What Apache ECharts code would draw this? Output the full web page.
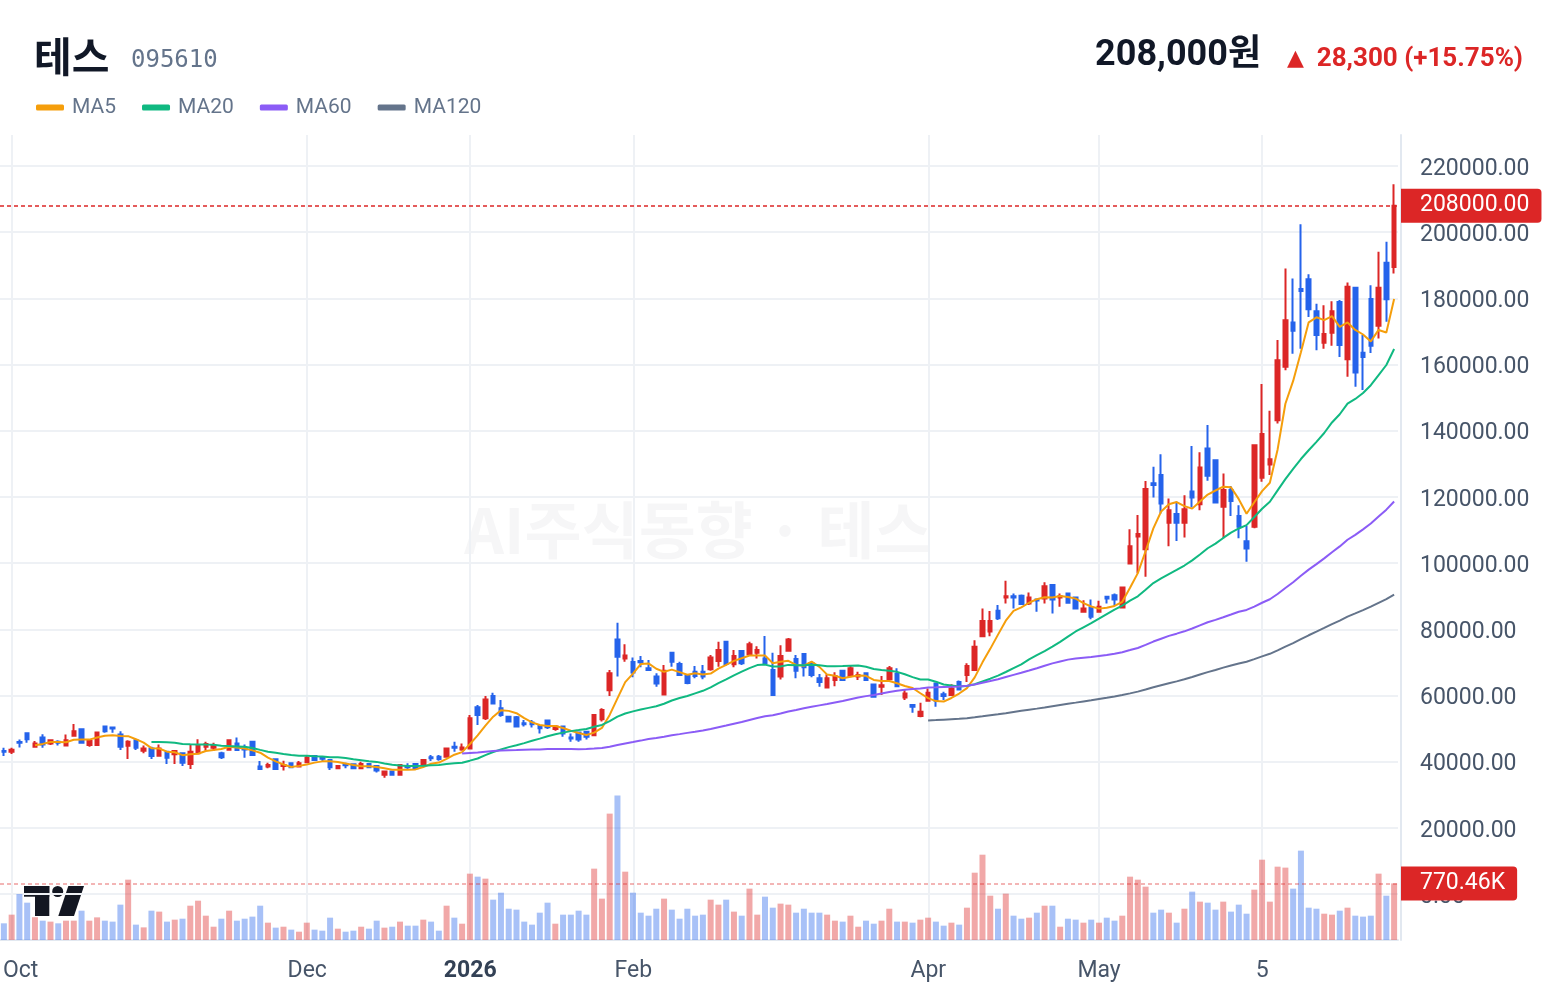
<!DOCTYPE html>
<html>
<head>
<meta charset="utf-8">
<title>테스 095610</title>
<script src="https://cdn.jsdelivr.net/npm/echarts@6/dist/echarts.min.js"></script>
<style>
  html, body { margin: 0; padding: 0; background: #fff; }
  #chart { width: 1560px; height: 996px; }
</style>
</head>
<body>
<div id="chart"></div>
<script>
// daily candles, oldest first (KRW)
const opens = [
  43200, 43000, 45900, 48600, 44500, 47300, 45500, 46000, 44900, 47800,
  49800, 45000, 45000, 50600, 50300, 48200, 44800, 46500, 43300, 44000,
  41800, 43000, 42200, 42500, 39300, 42500, 44500, 44200, 42500, 43600,
  45500, 44000, 46000, 38500, 38500, 40700, 38700, 39500, 38500, 39800,
  41700, 41200, 40500, 38000, 39200, 39200, 38000, 39300, 38700, 36000,
  37000, 36000, 38700, 39300, 39000, 41300, 41500, 41500, 44500, 43700,
  44000, 56400, 53100, 59800, 56100, 53600, 53400, 51600, 51800, 50800,
  52400, 49900, 50600, 47300, 48800, 49000, 48000, 52800, 61600, 76900,
  71200, 70100, 70400, 68200, 65700, 60300, 72900, 69500, 66000, 67200,
  67200, 67900, 70400, 76200, 69400, 73400, 72500, 72900, 71200, 67700,
  65700, 73500, 71000, 72500, 69700, 65200, 62400, 64700, 67500, 65900,
  65700, 66700, 63300, 62600, 64900, 66500, 59400, 57100, 53800, 58400,
  63600, 60400, 60100, 64100, 66200, 67700, 77900, 79300, 85600, 89600,
  90000, 90100, 87800, 89000, 89300, 93400, 89600, 90800, 89600, 85300,
  86600, 85300, 89800, 90300, 86600, 99900, 108000, 104200, 124100, 126600,
  112200, 114800, 112200, 121600, 117800, 134600, 131100, 117000, 122100, 114200,
  106600, 111000, 125800, 129800, 143200, 159300, 172700, 182800, 185800, 176100,
  166600, 169600, 178900, 161600, 183200, 163600, 179800, 171700, 190800, 189500
];
const closes = [
  43000, 43600, 45700, 46800, 45500, 45200, 46500, 45700, 46500, 49200,
  45700, 46200, 48800, 49200, 50000, 44500, 46000, 44200, 44000, 41700,
  44000, 41200, 43200, 39700, 43000, 44800, 45300, 44700, 41300, 46500,
  43500, 43700, 42000, 37800, 39000, 37800, 39000, 38300, 39500, 41200,
  40500, 40900, 38300, 38700, 38900, 38000, 39300, 38300, 37300, 37000,
  36000, 39000, 38300, 38000, 40500, 41000, 40800, 44000, 44200, 44300,
  53100, 54100, 58800, 57600, 54100, 52100, 50600, 51300, 51300, 50100,
  50400, 50600, 48500, 47000, 46700, 47500, 54100, 55600, 66700, 71700,
  72100, 66900, 70000, 67700, 63600, 67500, 70200, 66200, 63800, 65900,
  65700, 71500, 73700, 69500, 71900, 69700, 75500, 73700, 69700, 60100,
  71900, 76900, 67500, 68500, 66200, 64100, 65200, 65900, 64700, 68200,
  66200, 64700, 59600, 63100, 68200, 62800, 60600, 56600, 55100, 60800,
  58400, 59800, 62100, 61800, 68900, 74700, 82500, 82500, 83300, 90000,
  89600, 87600, 89600, 88700, 93000, 89000, 90000, 88000, 86300, 86300,
  83800, 86800, 89300, 89000, 92600, 105100, 108800, 122400, 123600, 118000,
  116000, 112200, 116300, 119800, 128900, 126400, 118300, 122100, 118800, 111000,
  104400, 135600, 139000, 131400, 161300, 173400, 170200, 182200, 176700, 168900,
  169200, 176100, 165900, 183500, 157600, 162300, 165700, 183200, 179700, 208000
];
const lows = [
  41700, 42300, 44300, 45700, 44200, 44200, 45000, 44900, 44800, 47800,
  45700, 44500, 44900, 48700, 48700, 43500, 40800, 43500, 42500, 40800,
  41800, 39300, 39300, 38700, 37800, 42500, 43300, 43200, 40800, 43600,
  43200, 41200, 41700, 37700, 38000, 37500, 37300, 38300, 38300, 39500,
  40200, 40200, 37500, 37700, 38000, 38000, 38000, 38300, 36700, 35100,
  36000, 36000, 37500, 37700, 38700, 40200, 40300, 41500, 43000, 43300,
  44000, 51100, 52600, 57400, 53600, 51800, 50300, 50600, 50300, 48500,
  49900, 49300, 47500, 46000, 46000, 46700, 47700, 52100, 59800, 65700,
  70200, 65500, 68500, 67500, 62600, 60100, 68700, 65900, 63400, 65200,
  64900, 67500, 68700, 68900, 68500, 69200, 72200, 71200, 69700, 60100,
  64800, 73500, 65200, 65700, 65500, 62600, 62400, 62800, 64500, 65500,
  64700, 64500, 59600, 60100, 64500, 62800, 58600, 54800, 53400, 58400,
  56600, 58600, 60100, 61800, 64100, 67700, 77900, 77900, 82800, 87800,
  86300, 87600, 87300, 85300, 87800, 84800, 86800, 87800, 86300, 85300,
  83000, 85000, 87800, 87000, 86600, 99700, 96900, 95900, 119800, 115000,
  105100, 106700, 107700, 116800, 116000, 124900, 118000, 107500, 114200, 107500,
  100400, 110500, 124600, 126600, 142200, 158300, 163300, 164800, 174400, 164300,
  164800, 165700, 162300, 156300, 153300, 152300, 163500, 167900, 172900, 187500
];
const highs = [
  44200, 44200, 46700, 48700, 46200, 48300, 46500, 46500, 48200, 51400,
  50000, 46800, 49000, 50600, 50300, 49200, 46500, 46500, 44900, 44500,
  45200, 43200, 43200, 42500, 45200, 46800, 46000, 45700, 43000, 46800,
  47300, 45200, 46200, 40200, 39700, 41000, 40300, 39700, 40200, 42000,
  42000, 41700, 40800, 39000, 39700, 39200, 40000, 39300, 38700, 37300,
  37000, 39000, 39500, 39300, 40800, 42000, 42000, 44300, 46000, 45500,
  54100, 57100, 59800, 60800, 58600, 53800, 53800, 52600, 52600, 50800,
  52600, 51100, 50600, 48500, 49000, 49300, 54100, 56100, 67700, 82000,
  75500, 71500, 71900, 70700, 66700, 69200, 73200, 70200, 66400, 68900,
  69200, 72200, 76200, 76400, 73700, 73400, 76200, 74900, 78000, 72900,
  75200, 77400, 72200, 72500, 70200, 66500, 66400, 67000, 67500, 68900,
  67200, 66900, 63600, 65900, 68900, 68200, 61800, 57400, 57800, 62100,
  63600, 61100, 63400, 64500, 69700, 76700, 86300, 85500, 87300, 94700,
  90800, 90500, 91100, 89000, 94200, 93400, 90800, 91000, 89800, 88800,
  89000, 88600, 89800, 90800, 92600, 110200, 114500, 124800, 129100, 132900,
  119500, 118500, 120500, 135400, 133500, 141700, 131100, 127100, 123300, 117500,
  111200, 135600, 154100, 146000, 167400, 189000, 186000, 202400, 187300, 178400,
  177900, 179100, 179500, 184800, 183200, 168900, 184000, 194100, 197100, 214500
];
// volume in thousands of shares
const volumes = [
  227, 345, 626, 508, 310, 263, 250, 227, 263, 263,
  399, 263, 308, 263, 250, 481, 821, 209, 172, 399,
  386, 250, 277, 290, 467, 535, 331, 181, 290, 399,
  263, 290, 318, 467, 236, 168, 181, 141, 113, 236,
  141, 127, 304, 154, 113, 127, 181, 154, 263, 168,
  181, 250, 195, 195, 277, 250, 127, 467, 304, 222,
  903, 862, 835, 549, 644, 426, 413, 250, 209, 372,
  508, 222, 345, 345, 399, 345, 971, 563, 1720, 1965,
  930, 644, 372, 331, 426, 563, 413, 290, 426, 331,
  345, 549, 481, 549, 386, 331, 699, 345, 590, 440,
  495, 481, 372, 426, 372, 372, 345, 263, 250, 331,
  181, 263, 222, 263, 426, 250, 250, 236, 277, 304,
  250, 195, 236, 209, 440, 916, 1161, 603, 426, 631,
  331, 290, 304, 372, 467, 467, 181, 290, 277, 236,
  277, 236, 304, 263, 331, 862, 821, 726, 372, 413,
  372, 236, 426, 658, 522, 508, 413, 522, 386, 481,
  358, 685, 1093, 522, 998, 985, 699, 1216, 440, 426,
  358, 345, 399, 440, 331, 318, 331, 903, 603, 770.46
];

// x-axis month marks: candle index and text
const tickIdx = [1, 39, 60, 81, 119, 141, 162];
const tickText = ['Oct', 'Dec', '2026', 'Feb', 'Apr', 'May', '5'];

const maPeriods = [5, 20, 60, 120];

const stockName = '테스';
const stockCode = '095610';
const lastPrice = 208000;
const priceChange = 28300;
const changePct = 15.75;
const lastVolume = 770.46;

const UP = '#dc2626';
const DOWN = '#2563eb';
const maColors = ['#f59e0b', '#10b981', '#8b5cf6', '#64748b'];
const GRID_LINE = '#eef1f5';
const AXIS_TEXT = '#475569';
const FONT = 'Roboto, "Noto Sans CJK KR", sans-serif';

const days = opens.map((_, i) => String(i));
const candles = opens.map((o, i) => [o, closes[i], lows[i], highs[i]]);

function movingAverage(n) {
  return closes.map((_, i) => {
    if (i < n - 1) return '-';
    let s = 0;
    for (let k = i - n + 1; k <= i; k++) s += closes[k];
    return Math.round(s / n);
  });
}

const volumeBars = volumes.map((v, i) => ({
  value: v,
  itemStyle: { color: closes[i] >= opens[i] ? 'rgba(220,38,38,0.4)' : 'rgba(37,99,235,0.4)' }
}));

const tagLabel = (text, bg) => ({
  show: true,
  position: 'end',
  distance: 3,
  formatter: text,
  color: '#fff',
  backgroundColor: bg,
  fontFamily: FONT,
  fontSize: 23,
  lineHeight: 25,
  padding: [7, 12, 2, 19],
  borderRadius: [0, 4, 4, 0]
});

const chart = echarts.init(document.getElementById('chart'), null, { renderer: 'canvas' });

const option = {
  animation: false,
  backgroundColor: '#fff',
  textStyle: { fontFamily: FONT },
  legend: {
    data: maPeriods.map(n => 'MA' + n),
    left: 36,
    top: 97,
    padding: 0,
    icon: 'roundRect',
    itemWidth: 28,
    itemHeight: 6,
    itemGap: 26,
    selectedMode: false,
    formatter: name => '{t|' + name + '}',
    textStyle: {
      color: '#64748b',
      fontSize: 21,
      fontFamily: FONT,
      rich: { t: { color: '#64748b', fontSize: 21, fontFamily: FONT, padding: [0, 0, 0, 3] } }
    }
  },
  grid: [
    { left: -2, right: 162, top: 166, height: 728 },
    { left: -2, right: 162, top: 135, bottom: 56 },
    { left: 1.89, right: 165.89, top: 135, bottom: 56 }
  ],
  xAxis: [
    { type: 'category', gridIndex: 0, data: days, boundaryGap: true, show: false },
    {
      type: 'category', gridIndex: 1, data: days, boundaryGap: true,
      axisLine: { show: true, lineStyle: { color: '#e2e8f0', width: 2 } },
      axisTick: { show: false }, axisLabel: { show: false }, splitLine: { show: false }
    },
    {
      type: 'category', gridIndex: 2, data: days, boundaryGap: false,
      axisLine: { show: false }, axisTick: { show: false },
      splitLine: {
        show: true,
        interval: i => tickIdx.includes(i),
        lineStyle: { color: GRID_LINE, width: 2 }
      },
      axisLabel: {
        interval: i => tickIdx.includes(i),
        margin: 20,
        color: AXIS_TEXT,
        fontSize: 23,
        fontFamily: FONT,
        formatter: (v, i) => {
          const t = tickText[tickIdx.indexOf(i)];
          if (i === tickIdx[0]) return '{first|' + t + '}';
          if (/^\d{4}$/.test(t)) return '{yr|' + t + '}';
          return t;
        },
        rich: {
          first: { color: AXIS_TEXT, fontSize: 23, fontFamily: FONT, padding: [0, 0, 0, 17] },
          yr: { color: '#334155', fontSize: 23, fontFamily: FONT, fontWeight: 'bold' }
        }
      }
    }
  ],
  yAxis: [
    {
      type: 'value', gridIndex: 0, min: 0, max: 220000, interval: 20000,
      position: 'right', offset: 3,
      axisLine: { show: false }, axisTick: { show: false },
      splitLine: { show: true, lineStyle: { color: GRID_LINE, width: 2 } },
      axisLabel: {
        margin: 19, color: AXIS_TEXT, fontSize: 23, fontFamily: FONT,
        formatter: v => '{p|' + v.toFixed(2) + '}',
        rich: { p: { color: AXIS_TEXT, fontSize: 23, fontFamily: FONT, padding: [6, 0, 0, 0] } }
      }
    },
    {
      type: 'value', gridIndex: 1, min: 0, max: 10956,
      position: 'right', offset: 3,
      axisLine: { show: true, lineStyle: { color: '#e2e8f0', width: 2 } },
      axisTick: { show: false }, axisLabel: { show: false }, splitLine: { show: false }
    },
    { type: 'value', gridIndex: 2, show: false }
  ],
  series: [
    {
      name: stockName,
      type: 'candlestick',
      xAxisIndex: 0,
      yAxisIndex: 0,
      data: candles,
      barWidth: 4,
      z: 2,
      itemStyle: {
        color: UP, color0: DOWN,
        borderColor: UP, borderColor0: DOWN,
        borderWidth: 2
      },
      markLine: {
        silent: true,
        symbol: ['none', 'none'],
        lineStyle: { color: UP, width: 1.5, type: [4, 3] },
        label: tagLabel(lastPrice.toFixed(2), UP),
        data: [{ yAxis: lastPrice }]
      }
    },
    ...maPeriods.map((n, k) => ({
      name: 'MA' + n,
      type: 'line',
      xAxisIndex: 0,
      yAxisIndex: 0,
      data: movingAverage(n),
      color: maColors[k],
      symbol: 'none',
      showSymbol: false,
      z: 3,
      lineStyle: { width: 2, color: maColors[k] }
    })),
    {
      name: 'Volume',
      type: 'bar',
      xAxisIndex: 1,
      yAxisIndex: 1,
      data: volumeBars,
      barWidth: 6,
      z: 1,
      markLine: {
        silent: true,
        symbol: ['none', 'none'],
        lineStyle: { color: 'rgba(220,38,38,0.45)', width: 1.5, type: [4, 3] },
        label: tagLabel(lastVolume.toFixed(2) + 'K', UP),
        data: [{ yAxis: lastVolume }]
      }
    }
  ],
  graphic: [
    {
      type: 'text', x: 698, y: 530, z: -1, silent: true,
      style: {
        text: 'AI주식동향 · ' + stockName,
        align: 'center', verticalAlign: 'middle',
        font: 'bold 62px "Noto Sans CJK KR", sans-serif',
        fill: 'rgba(15,23,42,0.04)'
      }
    },
    {
      type: 'text', x: 34, y: 56,
      style: {
        text: stockName, verticalAlign: 'middle',
        font: 'bold 41px "Noto Sans CJK KR", sans-serif', fill: '#111827'
      }
    },
    {
      type: 'text', x: 131, y: 61,
      style: {
        text: stockCode, verticalAlign: 'middle',
        font: '24px "DejaVu Sans Mono", monospace', fill: '#64748b'
      }
    },
    {
      type: 'text', x: 1261, y: 56,
      style: {
        text: lastPrice.toLocaleString('en-US') + '원',
        align: 'right', verticalAlign: 'middle',
        font: 'bold 36px Roboto, "Noto Sans CJK KR", sans-serif', fill: '#111827'
      }
    },
    {
      type: 'text', x: 1287, y: 59,
      style: {
        text: '▲', verticalAlign: 'middle',
        font: '22px "DejaVu Sans", sans-serif', fill: UP
      }
    },
    {
      type: 'text', x: 1523, y: 59,
      style: {
        text: priceChange.toLocaleString('en-US') + ' (+' + changePct.toFixed(2) + '%)',
        align: 'right', verticalAlign: 'middle',
        font: 'bold 26px Roboto, sans-serif', fill: UP
      }
    },
    {
      type: 'group', z: 10, silent: true,
      children: [
        { type: 'rect', shape: { x: 24, y: 886, width: 25.3, height: 10.7 }, style: { fill: '#131722' } },
        { type: 'rect', shape: { x: 35, y: 886, width: 14.3, height: 30 }, style: { fill: '#131722' } },
        { type: 'circle', shape: { cx: 57.7, cy: 891.5, r: 5.5 }, style: { fill: '#131722' } },
        { type: 'polygon', shape: { points: [[68.3, 886], [84, 886], [74, 916], [58.3, 916]] }, style: { fill: '#131722' } }
      ]
    }
  ]
};

chart.setOption(option);
</script>
</body>
</html>
